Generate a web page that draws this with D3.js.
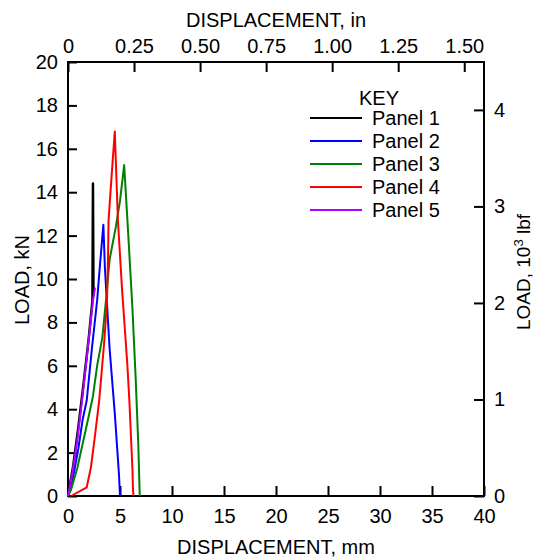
<!DOCTYPE html>
<html><head><meta charset="utf-8">
<script src="https://cdn.jsdelivr.net/npm/d3@7"></script>
<style>
html,body{margin:0;padding:0;background:#fff;}
text{font-family:"Liberation Sans",Arial,sans-serif;fill:#000;}
</style></head>
<body>
<svg id="chart" width="536" height="559"></svg>
<script>
// ---- data (displacement mm, load kN) ----
const seriesNames = ["Panel 1","Panel 2","Panel 3","Panel 4","Panel 5"];
const seriesColors = ["#000000","#0000ff","#008000","#ff0000","#b000ff"];
const panel1 = [[0,0],[0.5,1.4],[1.0,3.2],[1.5,5.2],[2.0,7.3],[2.35,9.0],[2.4,14.4],[2.45,9.2]];
const panel2 = [[0,0],[0.5,0.9],[1.0,2.2],[1.4,3.5],[1.8,4.4],[2.3,6.8],[2.8,9.0],[3.1,10.8],[3.4,12.5],[3.55,10.5],[4.0,6.8],[4.5,3.8],[4.9,1.0],[5.0,0]];
const panel3 = [[0,0],[0.3,0.3],[0.9,1.3],[1.5,2.6],[2.0,3.7],[2.4,4.6],[2.8,6.0],[3.3,7.3],[3.65,9.0],[4.0,10.9],[4.6,12.4],[5.0,13.6],[5.4,15.25],[5.8,12.0],[6.2,8.6],[6.5,5.5],[6.75,2.5],[6.9,0]];
const panel4 = [[0.3,0],[1.8,0.4],[2.2,1.3],[2.6,2.8],[3.0,4.4],[3.5,7.2],[3.75,9.0],[3.85,11.0],[3.9,12.7],[4.2,14.8],[4.5,16.8],[4.8,12.7],[5.2,9.5],[5.7,6.1],[5.9,4.4],[6.2,1.2],[6.25,0.3],[6.3,0]];
const panel5 = [[0,0],[0.4,1.0],[0.9,2.6],[1.4,4.6],[1.9,6.8],[2.4,9.0],[2.6,9.6]];
const seriesData = [panel1,panel2,panel3,panel4,panel5];
const mmTicks = [0,5,10,15,20,25,30,35,40];
const kNTicks = [0,2,4,6,8,10,12,14,16,18,20];
const inTicks = [0,0.25,0.5,0.75,1.0,1.25,1.5];
const inTickLabels = ["0","0.25","0.50","0.75","1.00","1.25","1.50"];
const kipTicks = [0,1,2,3,4];

// ---- layout ----
const L=68, R=484, T=62, B=496;
const FS = "20px";
const svg = d3.select("#chart");
const x = d3.scaleLinear().domain([0,40]).range([L,R]);
const y = d3.scaleLinear().domain([0,20]).range([B,T]);
const xin = d3.scaleLinear().domain([0,40/25.4]).range([L,R]);
const ykip = d3.scaleLinear().domain([0,20/4.448222]).range([B,T]);

function styleAxis(g){
  g.select(".domain").remove();
  g.selectAll(".tick line").attr("stroke","#000").attr("stroke-width",2);
  g.selectAll(".tick text").style("font-size",FS).style("font-family","'Liberation Sans',Arial,sans-serif").attr("fill","#000");
}

svg.append("g").attr("transform",`translate(0,${B})`)
  .call(d3.axisBottom(x).tickValues(mmTicks).tickFormat(d3.format("d")).tickSizeInner(-10).tickSizeOuter(0).tickPadding(13))
  .call(styleAxis);
svg.append("g").attr("transform",`translate(0,${T})`)
  .call(d3.axisTop(xin).tickValues(inTicks).tickFormat((d,i)=>inTickLabels[i]).tickSizeInner(-10).tickSizeOuter(0).tickPadding(9))
  .call(styleAxis);
svg.append("g").attr("transform",`translate(${L},0)`)
  .call(d3.axisLeft(y).tickValues(kNTicks).tickFormat(d3.format("d")).tickSizeInner(-9).tickSizeOuter(0).tickPadding(10))
  .call(styleAxis);
svg.append("g").attr("transform",`translate(${R},0)`)
  .call(d3.axisRight(ykip).tickValues(kipTicks).tickFormat(d3.format("d")).tickSizeInner(-10).tickSizeOuter(0).tickPadding(10))
  .call(styleAxis);

// frame
svg.append("rect").attr("x",L).attr("y",T).attr("width",R-L).attr("height",B-T)
  .attr("fill","none").attr("stroke","#000").attr("stroke-width",2);

// lines
const line = d3.line().x(d=>x(d[0])).y(d=>y(d[1]));
seriesData.forEach((s,i)=>{
  svg.append("path").datum(s).attr("d",line).attr("fill","none")
    .attr("stroke",seriesColors[i]).attr("stroke-width",i===0?2.5:2).attr("stroke-linejoin","round");
});

// titles
svg.append("text").attr("x",(L+R)/2).attr("y",27).attr("text-anchor","middle").style("font-size",FS).text("DISPLACEMENT, in");
svg.append("text").attr("x",(L+R)/2).attr("y",554).attr("text-anchor","middle").style("font-size",FS).text("DISPLACEMENT, mm");
svg.append("text").attr("transform","translate(29,280) rotate(-90)").attr("text-anchor","middle").style("font-size",FS).text("LOAD, kN");
const rt = svg.append("text").attr("transform","translate(530,272) rotate(-90)").attr("text-anchor","middle").style("font-size","19px");
rt.append("tspan").text("LOAD, 10");
rt.append("tspan").attr("dy","-7").style("font-size","13px").text("3");
rt.append("tspan").attr("dy","7").text(" lbf");

// legend
svg.append("text").attr("x",379).attr("y",105).attr("text-anchor","middle").style("font-size",FS).text("KEY");
seriesNames.forEach((n,i)=>{
  const yy = 118 + i*23;
  svg.append("line").attr("x1",310).attr("x2",362).attr("y1",yy).attr("y2",yy)
    .attr("stroke",seriesColors[i]).attr("stroke-width",2);
  svg.append("text").attr("x",372).attr("y",yy+7).style("font-size",FS).text(n);
});
</script>
</body></html>
